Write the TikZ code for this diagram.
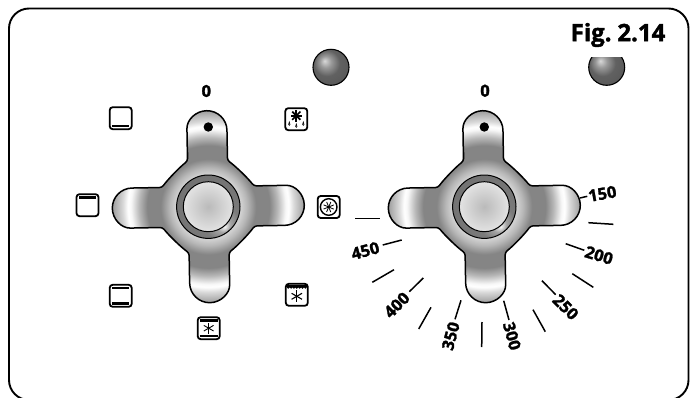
\documentclass[tikz,border=0pt]{standalone}
\usepackage{fontspec}
\setmainfont{Open Sans}[BoldFeatures={FakeBold=1.6}]
\pgfdeclareradialshading{knobshade}{\pgfpoint{0bp}{0bp}}{%
 rgb(0bp)=(.82,.82,.82);rgb(8bp)=(.82,.82,.82);rgb(9.5bp)=(.72,.72,.72);rgb(11.75bp)=(.52,.52,.52);rgb(15bp)=(.52,.52,.52);rgb(17bp)=(.72,.72,.72);rgb(19bp)=(.97,.97,.97);rgb(19.75bp)=(1,1,1);rgb(21bp)=(.85,.85,.85);rgb(24bp)=(.58,.58,.58);rgb(50bp)=(.5,.5,.5)}
\pgfdeclareradialshading{capshade}{\pgfpoint{0bp}{0bp}}{%
 rgb(0bp)=(.73,.73,.73);rgb(25bp)=(.89,.89,.89);rgb(50bp)=(.89,.89,.89)}
\pgfdeclareradialshading{ringshade}{\pgfpoint{13bp}{-16bp}}{%
 rgb(0bp)=(.96,.96,.96);rgb(6bp)=(.64,.64,.64);rgb(14bp)=(.48,.48,.48);rgb(50bp)=(.42,.42,.42)}
\pgfdeclareradialshading{ledshade}{\pgfpoint{-9bp}{9bp}}{%
 rgb(0bp)=(.85,.85,.85);rgb(8bp)=(.6,.6,.6);rgb(18bp)=(.38,.38,.38);rgb(50bp)=(.3,.3,.3)}
\tikzset{
 x=1pt,y=1pt,
 outline/.style={draw=black,line width=1.5pt},
 iconbox/.style={draw=black,line width=1.8pt,rounded corners=3pt,minimum size=22pt,inner sep=0pt,fill=white},
 iconbar/.style={line width=2.3pt,black},
 tickmark/.style={line width=1.5pt,black},
 scalelabel/.style={font=\bfseries\fontsize{16.5}{17}\selectfont,inner sep=0pt},
 knob/.pic={
  \begin{scope}[rotate=1]
   \def\knobpath{[rounded corners=2.5pt] (-20,46) -- (-20,76) [sharp corners] arc (180:0:20) [rounded corners=2.5pt] -- (20,46)
     .. controls (28,40) and (40,28) .. (46,20) -- (76,20) [sharp corners] arc (90:-90:20) [rounded corners=2.5pt] -- (46,-20)
     .. controls (40,-28) and (28,-40) .. (20,-46) -- (20,-76) [sharp corners] arc (0:-180:20) [rounded corners=2.5pt] -- (-20,-46)
     .. controls (-28,-40) and (-40,-28) .. (-46,-20) -- (-76,-20) [sharp corners] arc (270:90:20) [rounded corners=2.5pt] -- (-46,20)
     .. controls (-40,28) and (-28,40) .. (-20,46) -- cycle}
   \begin{scope}
    \clip \knobpath;
    \shade[shading=knobshade] (-100,-100) rectangle (100,100);
   \end{scope}
   \draw[outline] \knobpath;
  \end{scope}
  \shade[shading=ringshade,draw=black,line width=1pt] (0,0) circle[radius=31.7];
  \shade[shading=capshade,draw=black,line width=1pt] (0,0) circle[radius=25];
  \fill[black] (0,79.7) circle[radius=4.7];
 }
}
\begin{document}
\begin{tikzpicture}
\useasboundingbox (0,0) rectangle (695,397);
\begin{scope}
 \clip (0,0) rectangle (695,397);
 \draw[line width=1.9pt,rounded corners=20pt] (9,-3) rectangle (688.5,388.5);
\end{scope}

\node[font=\bfseries\fontsize{24}{25}\selectfont,inner sep=0pt] (figlabel) at (618,362) {Fig.\hspace{.24em}2.14};

% indicator lamps
\shade[shading=ledshade,draw=black,line width=1.1pt] (331,329.7) circle[radius=18];
\begin{scope}
 \clip (580,300) rectangle (635,339.3);
 \shade[shading=ledshade,draw=black,line width=1.1pt] (606.7,329.7) circle[radius=18];
\end{scope}

% knobs
\pic at (208.3,190.3) {knob};
\pic at (484.3,190.3) {knob};

\node[scalelabel] (zeroa) at (206.3,306) {0};
\node[scalelabel] (zerob) at (485,306.3) {0};

% function icons
\node[iconbox] (ia) at (120.7,278.8) {};
\draw[iconbar] ([shift={(-8.5,-7.6)}]ia.center) -- ([shift={(8.5,-7.6)}]ia.center);
\node[iconbox] (ib) at (87.5,191.8) {};
\draw[iconbar] ([shift={(-8.5,7.6)}]ib.center) -- ([shift={(8.5,7.6)}]ib.center);
\node[iconbox] (ic) at (120.7,101.2) {};
\draw[iconbar] ([shift={(-8.5,7.6)}]ic.center) -- ([shift={(8.5,7.6)}]ic.center);
\draw[iconbar] ([shift={(-8.5,-7.6)}]ic.center) -- ([shift={(8.5,-7.6)}]ic.center);
\node[iconbox] (id) at (208.7,68.8) {};
\draw[iconbar] ([shift={(-9,7.6)}]id.center) -- ([shift={(9,7.6)}]id.center);
\draw[iconbar] ([shift={(-9,-7.6)}]id.center) -- ([shift={(9,-7.6)}]id.center);
\foreach \a in {0,60,...,300} \draw[line width=.9pt] (id.center) -- ++(\a+30:5.6);
\node[iconbox] (ie) at (296.8,102.2) {};
\fill[black] ([shift={(-10,10)}]ie.center) -- ([shift={(10,10)}]ie.center) -- ([shift={(10,7.4)}]ie.center)
  \foreach \k in {0,...,6} { -- ([shift={(8.6-\k*2.87,6)}]ie.center) -- ([shift={(7.2-\k*2.87,7.4)}]ie.center) } -- ([shift={(-10,7.4)}]ie.center) -- cycle;
\foreach \a in {0,60,...,300} \draw[line width=1.1pt] ([yshift=-1.5pt]ie.center) -- ++(\a+30:6);
\node[iconbox] (if) at (328.7,190) {};
\draw[line width=1.4pt] (if.center) circle[radius=8.3];
\foreach \a in {0,45,...,315} \draw[line width=.8pt] (if.center) -- ++(\a+22:5.5);
\node[iconbox] (ig) at (296.3,277.8) {};
\foreach \a in {0,45,...,315} \draw[line width=1.7pt] ([yshift=3.5pt]ig.center) -- ++(\a:5.8);
\foreach \dx/\dy in {-7/-5,0/-7,7/-5}
 \draw[line width=.6pt] ([shift={(\dx,\dy+2.2)}]ig.center) .. controls ([shift={(\dx-2.6,\dy-2.2)}]ig.center) and ([shift={(\dx+2.6,\dy-2.2)}]ig.center) .. cycle;

% temperature scale
\foreach \xa/\ya/\xb/\yb in {355/178.3/380/178.3,382.7/152/401.7/157,372.3/114.7/394/127.3,409.3/105.3/423.3/119,418.7/68/431/89.7,455/77.7/461/96.7,481.7/50/482/75,503.7/96.3/509/77,533/87.3/545.3/65.3,542/116.3/555.7/102.3,572.3/123.3/593.3/109.7,565.7/153.3/584.3/146.7,588.3/174.3/613.3/172.7,580/199/587.3/200.7}
 \draw[tickmark] (\xa,\ya) -- (\xb,\yb);
\node[scalelabel,rotate=10] (t150) at (602.3,203.3) {150};
\node[scalelabel,rotate=-17] (t200) at (599,141.7) {200};
\node[scalelabel,rotate=-45] (t250) at (565.7,90) {250};
\node[scalelabel,rotate=-75] (t300) at (512,61) {300};
\node[scalelabel,rotate=75] (t350) at (450.7,61) {350};
\node[scalelabel,rotate=45] (t400) at (396.7,92) {400};
\node[scalelabel,rotate=15] (t450) at (365.3,146.3) {450};
\end{tikzpicture}
\end{document}
